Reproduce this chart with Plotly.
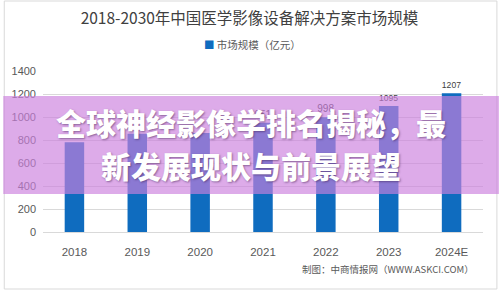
import plotly.graph_objects as go

categories = ["2018", "2019", "2020", "2021", "2022", "2023", "2024E"]
values = [780, 855, 860, 951, 998, 1095, 1207]
value_labels = ["", "", "", "951", "998", "1095", "1207"]
y_ticks = [0, 200, 400, 600, 800, 1000, 1200, 1400]

title_text = "2018-2030年中国医学影像设备解决方案市场规模"
series_name = "市场规模（亿元）"
source_text = "制图：中商情报网（WWW.ASKCI.COM）"
banner_line1 = "全球神经影像学排名揭秘，最"
banner_line2 = "新发展现状与前景展望"

W, H = 499, 291
L, R, T, B = 40, 16, 71, 59
pw, ph = W - L - R, H - T - B

def px(x):
    return (x - L) / pw

def py(y):
    return (H - B - y) / ph

BLUE = "#0f6cbf"

fig = go.Figure()
fig.add_trace(go.Bar(
    x=categories, y=values, name=series_name,
    marker=dict(color=BLUE, line=dict(width=0)),
    text=value_labels, textposition="outside",
    textfont=dict(size=10, color="#404040", family="Liberation Sans"),
    cliponaxis=False, showlegend=False,
))

fig.update_layout(
    width=W, height=H,
    margin=dict(l=L, r=R, t=T, b=B),
    paper_bgcolor="white", plot_bgcolor="white",
    bargap=0.69,
    showlegend=False,
    title=dict(text=title_text, x=0.5, xanchor="center", y=1 - 19 / H, yanchor="middle",
               font=dict(size=15.5, color="#404040", family="Noto Sans CJK SC")),
    xaxis=dict(showgrid=False, showline=True, linecolor="#d9d9d9", ticks="",
               ticklabelstandoff=9,
               tickfont=dict(size=11.5, color="#595959", family="Liberation Sans")),
    yaxis=dict(range=[0, 1400], tickvals=y_ticks, showgrid=True, gridcolor="#d9d9d9",
               zeroline=False, showline=False, ticks="", ticklabelstandoff=6,
               tickfont=dict(size=11, color="#595959", family="Liberation Sans")),
)

shapes = [
    dict(type="rect", xref="paper", yref="paper",
         x0=px(1), x1=px(497), y0=py(289), y1=py(1),
         line=dict(color="#d9d9d9", width=1), fillcolor="rgba(0,0,0,0)", layer="below"),
    dict(type="rect", xref="paper", yref="paper",
         x0=px(0), x1=px(W), y0=py(194), y1=py(96),
         line=dict(width=0), fillcolor="rgba(203,128,221,0.66)", layer="above"),
]
fig.update_layout(shapes=shapes)

fig.add_annotation(text=f"<span style='color:{BLUE}'>■</span> {series_name}",
                   xref="paper", yref="paper", x=px(200), y=py(45),
                   showarrow=False, xanchor="left", yanchor="middle",
                   font=dict(size=10.5, color="#595959", family="Noto Sans CJK SC"))
fig.add_annotation(text=source_text, xref="paper", yref="paper", x=px(387), y=py(269),
                   showarrow=False, xanchor="center", yanchor="middle",
                   font=dict(size=9.5, color="#595959", family="Noto Sans CJK SC"))
fig.add_annotation(text=banner_line1, xref="paper", yref="paper", x=px(249), y=py(122),
                   showarrow=False, xanchor="center", yanchor="middle",
                   font=dict(size=30, color="white", family="Noto Sans CJK SC", weight=900,
                             shadow="1px 1px 2px rgba(60,30,80,0.5)"))
fig.add_annotation(text=banner_line2, xref="paper", yref="paper", x=px(249), y=py(165),
                   showarrow=False, xanchor="center", yanchor="middle",
                   font=dict(size=30, color="white", family="Noto Sans CJK SC", weight=900,
                             shadow="1px 1px 2px rgba(60,30,80,0.5)"))

fig.write_html("out.html")
